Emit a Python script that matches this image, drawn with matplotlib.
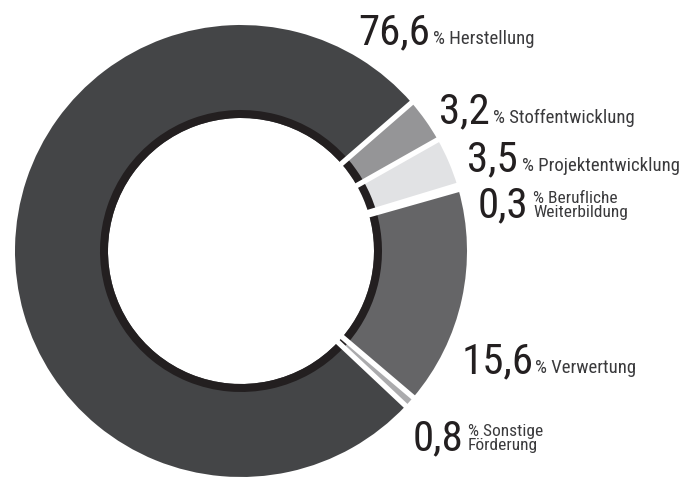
import numpy as np
import matplotlib
matplotlib.use("Agg")
from matplotlib import pyplot as plt

# shares in percent, clockwise from the upper right
categories = ["Stoffentwicklung", "Projektentwicklung", "Berufliche\nWeiterbildung",
              "Verwertung", "Sonstige\nFörderung", "Herstellung"]
shares = [3.2, 3.5, 0.3, 15.6, 0.8, 76.6]
colors = ["#959597", "#e1e2e4", "#9a9a9c", "#656567", "#ababad", "#444547"]

W, H = 700, 481
cx, cy = 241, H - 252     # donut centre (pixel units, y up)
r_out, r_in, ring = 226, 133, 8
start = 41

# label anchor: (number x, baseline y, text x) in image pixels
label_pos = [(439, 123, 493), (467, 171, 522), (478, 217, 533),
             (462, 373, 535), (413, 450, 468), (358, 44, 433)]

fig = plt.figure(figsize=(W / 100, H / 100), dpi=100)
ax = fig.add_axes([0, 0, 1, 1])

ax.pie(shares, colors=colors, startangle=start, counterclock=False,
       radius=r_out, center=(cx, cy), wedgeprops=dict(width=r_out - r_in, linewidth=0))
# dark inner ring
ax.pie(shares, colors=["#231f20"] * len(shares), startangle=start, counterclock=False,
       radius=r_in + ring, center=(cx, cy), wedgeprops=dict(width=ring, linewidth=0))

# white gaps between the slices
bounds = start - 3.6 * np.concatenate([[0], np.cumsum(shares)[:-1]])
for a in np.radians(bounds):
    ax.plot([cx + (r_in - 3) * np.cos(a), cx + (r_out + 3) * np.cos(a)],
            [cy + (r_in - 3) * np.sin(a), cy + (r_out + 3) * np.sin(a)],
            color="white", lw=3.8, solid_capstyle="butt")

ax.set_xlim(0, W)
ax.set_ylim(0, H)
ax.set_aspect("equal")
ax.axis("off")

fam = ["Roboto Condensed", "Fira Sans Condensed", "DejaVu Sans"]
for cat, val, (nx, ny, tx) in zip(categories, shares, label_pos):
    num = ("%.1f" % val).replace(".", ",")
    ax.text(nx, H - ny, num, fontsize=31, family=fam, color="#231f20",
            ha="left", va="baseline")
    lines = ("% " + cat).split("\n")
    if len(lines) == 1:
        ax.text(tx, H - ny, lines[0], fontsize=13.5, family=fam, color="#3a3a3c",
                ha="left", va="baseline")
    else:
        ax.text(tx, H - ny + 14, lines[0], fontsize=12.5, family=fam, color="#3a3a3c",
                ha="left", va="baseline")
        ax.text(tx, H - ny, lines[1], fontsize=12.5, family=fam, color="#3a3a3c",
                ha="left", va="baseline")

fig.savefig("out.png", dpi=100)
